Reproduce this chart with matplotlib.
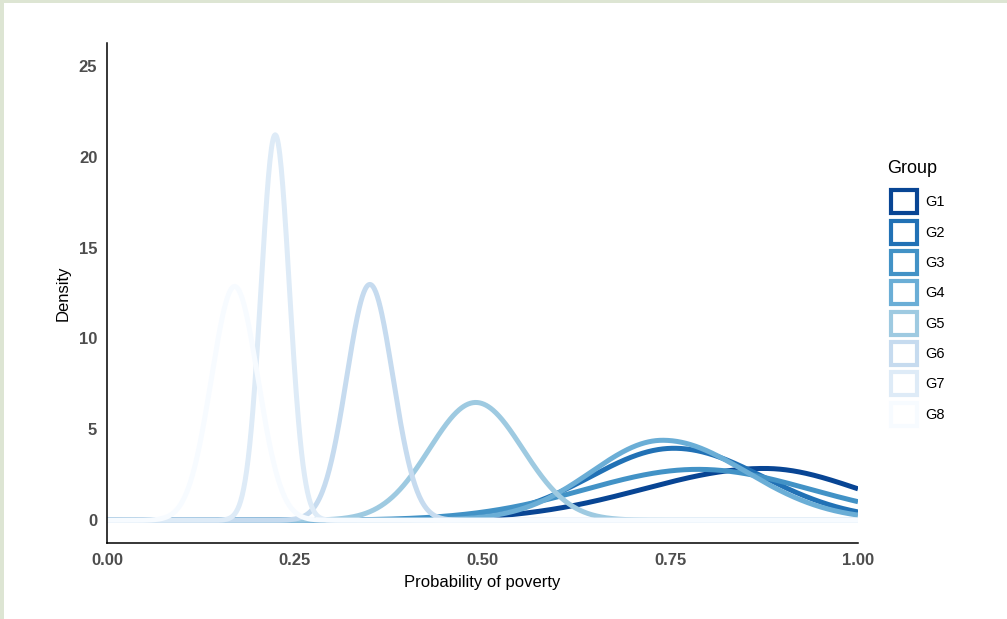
import numpy as np
import matplotlib
matplotlib.use("Agg")
import matplotlib.pyplot as plt
from matplotlib.patches import Patch, Rectangle

plt.rcParams['font.family'] = ['Liberation Sans', 'DejaVu Sans']

# groups and the shape of each density curve
groups = ["G1", "G2", "G3", "G4", "G5", "G6", "G7", "G8"]
centers = [0.875, 0.755, 0.787, 0.740, 0.491, 0.350, 0.224, 0.170]
peaks = [2.85, 3.96, 2.80, 4.40, 6.48, 12.97, 21.2, 12.86]
sd_left = [0.160, 0.111, 0.150, 0.095, 0.0616, 0.0308, 0.0188, 0.031]
sd_right = [0.125, 0.118, 0.150, 0.111, 0.0625, 0.0308, 0.0188, 0.031]
colors = ["#084594", "#2171B5", "#4292C6", "#6BAED6",
          "#9ECAE1", "#C6DBEF", "#DEEBF7", "#F7FBFF"]

W, H = 1007, 619
fig = plt.figure(figsize=(W / 100, H / 100), dpi=100)
fig.patch.set_facecolor("white")

# pale frame on the left and top edge
border = "#dde5d3"
fig.patches.append(Rectangle((0, 0), 4 / W, 1, transform=fig.transFigure,
                             facecolor=border, edgecolor="none"))
fig.patches.append(Rectangle((0, 1 - 3 / H), 1, 3 / H, transform=fig.transFigure,
                             facecolor=border, edgecolor="none"))

ax = fig.add_axes([107 / W, 1 - 543 / H, (858 - 107) / W, (543 - 43) / H])

x = np.linspace(0, 1, 1001)
for g, c, p, sl, sr, col in zip(groups, centers, peaks, sd_left, sd_right, colors):
    sd = np.where(x < c, sl, sr)
    y = p * np.exp(-0.5 * ((x - c) / sd) ** 2)
    ax.plot(x, y, color=col, lw=3.6, solid_capstyle="butt")

ax.set_xlim(0, 1)
ax.set_ylim(-1.25, 26.25)
ax.set_xticks([0, 0.25, 0.5, 0.75, 1.0])
ax.set_xticklabels(["0.00", "0.25", "0.50", "0.75", "1.00"])
ax.set_yticks([0, 5, 10, 15, 20, 25])
ax.tick_params(length=0, labelsize=12, labelcolor="#4d4d4d", pad=7)
for lab in ax.get_xticklabels() + ax.get_yticklabels():
    lab.set_fontweight("bold")
for s in ["top", "right"]:
    ax.spines[s].set_visible(False)
for s in ["left", "bottom"]:
    ax.spines[s].set_linewidth(1.1)
    ax.spines[s].set_color("black")

ax.set_xlabel("Probability of poverty", fontsize=12, labelpad=5)
ax.set_ylabel("Density", fontsize=12, labelpad=6)

# legend title placed on its own, keys below it
fig.text(887 / W, 1 - 168 / H, "Group", fontsize=13, va="center", ha="left")
handles = [Patch(facecolor="white", edgecolor=col, lw=3, label=g)
           for g, col in zip(groups, colors)]
leg = fig.legend(handles=handles, loc="upper left",
                 bbox_to_anchor=(884 / W, 1 - 183 / H), frameon=False,
                 fontsize=10.5, handlelength=1.75,
                 handleheight=2.04, labelspacing=0.51, handletextpad=0.6,
                 borderpad=0)

fig.savefig("out.png", dpi=100, facecolor="white")
